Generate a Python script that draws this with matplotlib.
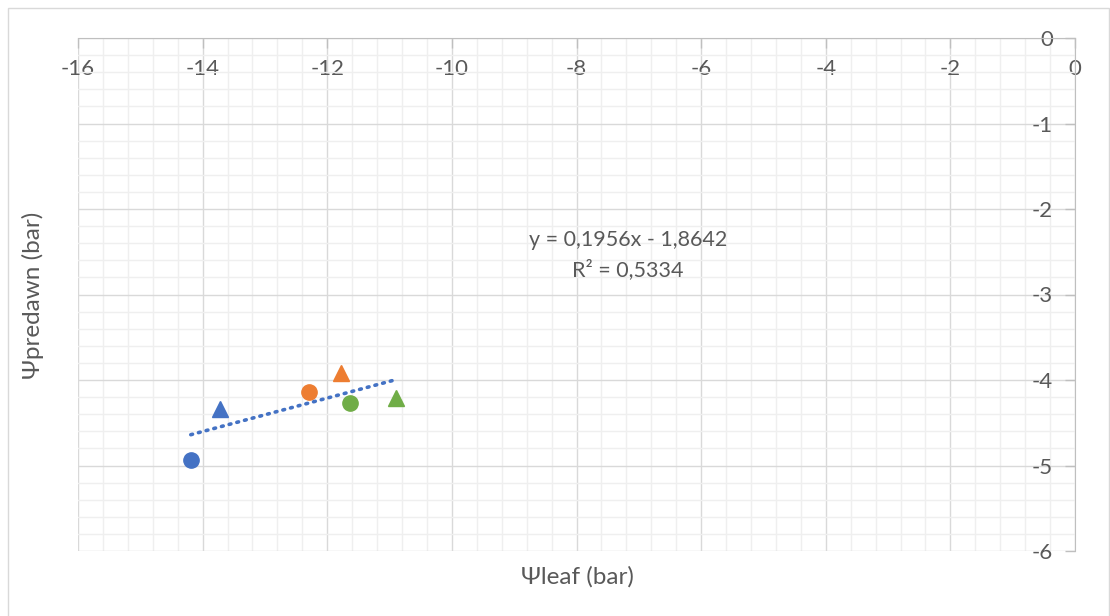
import matplotlib
matplotlib.use("Agg")
import matplotlib.pyplot as plt
from matplotlib.ticker import MultipleLocator
from matplotlib.patches import Rectangle
import numpy as np

plt.rcParams['font.family'] = ['Lato', 'DejaVu Sans']
plt.rcParams['axes.unicode_minus'] = False

# Leaf vs predawn water potential (bar)
psi_leaf = [-14.19, -13.72, -12.30, -11.78, -11.64, -10.89]
psi_predawn = [-4.94, -4.34, -4.14, -3.92, -4.27, -4.21]
point_colors = ['#4472C4', '#4472C4', '#ED7D31', '#ED7D31', '#70AD47', '#70AD47']
point_markers = ['o', '^', 'o', '^', 'o', '^']

# Linear trend
slope = 0.1956
intercept = -1.8642
r_squared = 0.5334

x_ticks = [-16, -14, -12, -10, -8, -6, -4, -2, 0]
y_ticks = [-6, -5, -4, -3, -2, -1, 0]

text_color = '#595959'

fig = plt.figure(figsize=(11.10, 6.16), dpi=100)
fig.patches.append(Rectangle((8 / 1110, -0.05), (1109 - 8) / 1110, 1.05 - 8 / 616,
                             transform=fig.transFigure, fill=False,
                             edgecolor='#D9D9D9', linewidth=1.0, zorder=0))

ax = fig.add_axes([78 / 1110, 1 - 551 / 616, (1075 - 78) / 1110, (551 - 38) / 616])
ax.set_xlim(-16, 0)
ax.set_ylim(-6, 0)

ax.xaxis.set_minor_locator(MultipleLocator(0.4))
ax.yaxis.set_minor_locator(MultipleLocator(0.2))
ax.set_xticks(x_ticks)
ax.set_yticks(y_ticks)
ax.set_xticklabels([str(v) for v in x_ticks])
ax.set_yticklabels([str(v) for v in y_ticks])

ax.grid(which='major', color='#D9D9D9', linewidth=1.0, zorder=0)
ax.grid(which='minor', color='#EFEFEF', linewidth=1.0, zorder=0)
ax.set_axisbelow(True)

# Axes cross at the origin: horizontal axis along y=0, vertical axis along x=0
ax.spines['bottom'].set_position(('data', 0))
ax.spines['left'].set_position(('data', 0))
ax.spines['bottom'].set_color('#BFBFBF')
ax.spines['left'].set_color('#BFBFBF')
ax.spines['top'].set_visible(False)
ax.spines['right'].set_visible(False)

ax.tick_params(axis='both', which='major', direction='out', length=7, width=1,
               color='#BFBFBF', labelcolor=text_color, labelsize=16)
ax.tick_params(axis='x', which='major', pad=8)
ax.tick_params(axis='y', which='major', pad=9)
ax.tick_params(which='minor', length=0)

for x, y, c, m in zip(psi_leaf, psi_predawn, point_colors, point_markers):
    ax.plot(x, y, marker=m, color=c, markersize=11, linestyle='none', zorder=4,
            clip_on=False)

x_fit = np.array([min(psi_leaf), max(psi_leaf)])
ax.plot(x_fit, slope * x_fit + intercept, linestyle=(0, (0.5, 1.7)),
        color='#4472C4', linewidth=2.6, dash_capstyle='round', zorder=3)

eq = f"y = {slope:.4f}x - {abs(intercept):.4f}".replace('.', ',')
r2 = f"R² = {r_squared:.4f}".replace('.', ',')
ax.text(-7.17, -2.36, eq, ha='center', va='center', fontsize=15.5, color=text_color)
ax.text(-7.17, -2.71, r2, ha='center', va='center', fontsize=15.5, color=text_color)

fig.text(577 / 1110, 1 - 577 / 616, 'Ψleaf (bar)', ha='center', va='center',
         fontsize=17.5, color=text_color)
fig.text(33 / 1110, 1 - 295 / 616, 'Ψpredawn (bar)', ha='center', va='center',
         rotation=90, fontsize=17.5, color=text_color)

fig.savefig('out.png', dpi=100)
